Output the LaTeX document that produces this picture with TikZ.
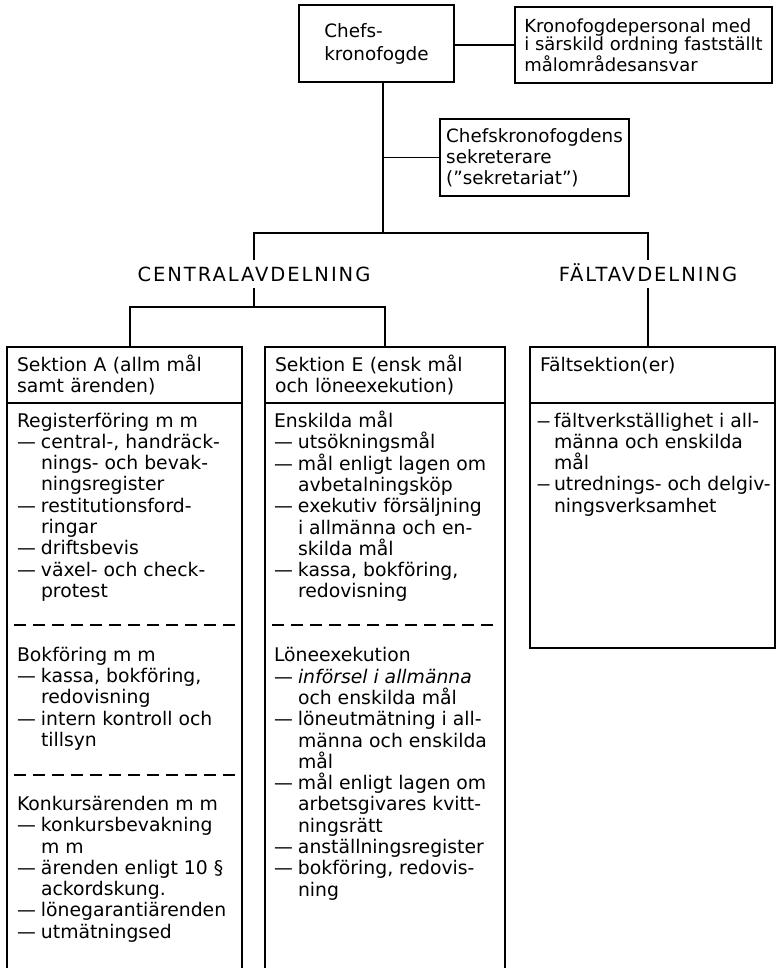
\documentclass[tikz,border=0pt]{standalone}
\usepackage{fontspec}
\usepackage{graphicx}
\setmainfont{DejaVu Sans}
\newfontfamily\spacedfont[LetterSpace=10]{DejaVu Sans}
\newcommand{\dl}{\makebox[24pt][l]{—}}
\newcommand{\ci}{\hspace*{24pt}}
\newcommand{\dls}{\makebox[17pt][l]{\scalebox{0.7}[1]{—}}}
\newcommand{\cis}{\hspace*{17pt}}
\newcommand{\fs}{\rule{0pt}{16pt}}
\begin{document}
\begin{tikzpicture}[x=1pt,y=-1pt,
  line width=1.7pt,
  every node/.style={font=\fontsize{18.8pt}{21.3pt}\selectfont, inner sep=0pt, outer sep=0pt},
  box/.style={draw, align=left},
  hdr/.style={draw, align=left, minimum height=56pt, inner xsep=10pt},
  body/.style={anchor=north west, align=left},
  head/.style={font={\spacedfont\fontsize{19.5pt}{21pt}\selectfont}, text height=14.2pt, text depth=0pt, minimum height=28pt},
  sep/.style={line width=2pt, dash pattern=on 12pt off 7pt}
]
\useasboundingbox (0,0) rectangle (783,968);

% top level
\node[box, minimum width=155pt, minimum height=77pt,
      font=\fontsize{18.4pt}{23pt}\selectfont] (chef) at (376.5,43.5) {Chefs-\\kronofogde};
\node[box, minimum width=257pt, minimum height=76pt,
      font=\fontsize{18pt}{18.5pt}\selectfont] (kp) at (643.5,45)
  {Kronofogdepersonal med\\i särskild ordning fastställt\\målområdesansvar};
\node[box, minimum width=189pt, minimum height=77pt,
      font=\fontsize{18.3pt}{21pt}\selectfont] (sek) at (534.5,157.5)
  {Chefskronofogdens\\sekreterare\\(”sekretariat”)};

% division headings
\node[head] (cen) at (254,274) {CENTRALAVDELNING};
\node[head] (falt) at (648,274) {FÄLTAVDELNING};

% section headers
\node[hdr, text width=215pt] (hA) at (124.5,375) {Sektion A (allm mål\\samt ärenden)};
\node[hdr, text width=220pt] (hE) at (385,375) {Sektion E (ensk mål\\och löneexekution)};
\node[hdr, text width=225pt] (hF) at (652.5,375) {Fältsektion(er)\\\mbox{}};
\node[draw, minimum width=245pt, minimum height=245pt, anchor=north] (bF) at (hF.south) {};

% open section bodies
\coordinate (bot) at (0,972);
\draw (hA.south west) -- (hA.south west |- bot);
\draw (hA.south east) -- (hA.south east |- bot);
\draw (hE.south west) -- (hE.south west |- bot);
\draw (hE.south east) -- (hE.south east |- bot);

% connectors
\coordinate (j1) at (383,233);
\coordinate (j2) at (130,307);
\draw (chef.south -| j1) -- (j1);
\draw (sek.west) -- (sek.west -| j1);
\draw (kp.west) -- (kp.west -| chef.east);
\draw (cen.north) -- (cen.north |- j1) -- (falt.north |- j1) -- (falt.north);
\draw (cen.south) -- (cen.south |- j2);
\draw (hA.north -| j2) -- (j2) -- (j2 -| hE.north) -- (hE.north);
\draw (falt.south) -- (falt.south |- hF.north);

% body texts
\node[body] (tA) at (17,411) {\fs Registerföring m m\\
\dl central-, handräck-\\
\ci nings- och bevak-\\
\ci ningsregister\\
\dl restitutionsford-\\
\ci ringar\\
\dl driftsbevis\\
\dl växel- och check-\\
\ci protest\\[42.6pt]
Bokföring m m\\
\dl kassa, bokföring,\\
\ci redovisning\\
\dl intern kontroll och\\
\ci tillsyn\\[42.6pt]
Konkursärenden m m\\
\dl konkursbevakning\\
\ci m m\\
\dl ärenden enligt 10 §\\
\ci ackordskung.\\
\dl lönegarantiärenden\\
\dl utmätningsed};

\node[body] (tE) at (274,411) {\fs Enskilda mål\\
\dl utsökningsmål\\
\dl mål enligt lagen om\\
\ci avbetalningsköp\\
\dl exekutiv försäljning\\
\ci i allmänna och en-\\
\ci skilda mål\\
\dl kassa, bokföring,\\
\ci redovisning\\[42.6pt]
Löneexekution\\
\dl \textit{införsel i allmänna}\\
\ci och enskilda mål\\
\dl löneutmätning i all-\\
\ci männa och enskilda\\
\ci mål\\
\dl mål enligt lagen om\\
\ci arbetsgivares kvitt-\\
\ci ningsrätt\\
\dl anställningsregister\\
\dl bokföring, redovis-\\
\ci ning};

\node[body] (tF) at (537,411) {\fs\dls fältverkställighet i all-\\
\cis männa och enskilda\\
\cis mål\\
\dls utrednings- och delgiv-\\
\cis ningsverksamhet};

% dashed separators
\draw[sep] (14,625) -- (240,625);
\draw[sep] (14,775) -- (240,775);
\draw[sep] (272,625) -- (498,625);
\end{tikzpicture}
\end{document}
